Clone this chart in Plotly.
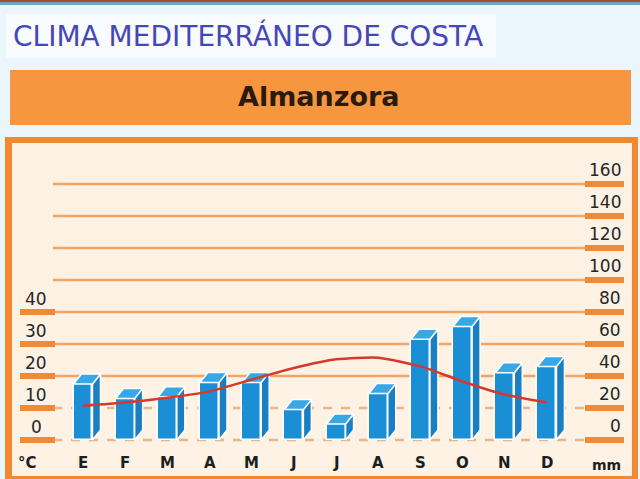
import plotly.graph_objects as go

# ---- data ----
months = ['E', 'F', 'M', 'A', 'M', 'J', 'J', 'A', 'S', 'O', 'N', 'D']
precip_mm = [35, 26, 27, 36, 36, 19, 10, 29, 63, 71, 42, 46]
temp_c = [10.7, 11.7, 13.2, 15.2, 18.9, 22.5, 25.2, 25.7, 23.0, 18.3, 14.2, 11.7]
mm_ticks = [0, 20, 40, 60, 80, 100, 120, 140, 160]
temp_ticks = [0, 10, 20, 30, 40]
title_text = 'CLIMA MEDITERRÁNEO DE COSTA'
station = 'Almanzora'

W, H = 640, 479
X0, DXP = 83.0, 42.18       # pixel of first category, pixels per category
Y0, DYP = 440.0, 1.6        # pixel of 0 mm, pixels per mm

def px(p):
    return p / W

def py(p):
    return 1 - p / H

def xdat(p):
    return (p - X0) / DXP

xr = [xdat(0), xdat(W)]
yr = [(Y0 - H) / DYP, Y0 / DYP]

fig = go.Figure()
shapes = []
annotations = []

def rect(x0, y0, x1, y1, color, layer='below'):
    shapes.append(dict(type='rect', xref='paper', yref='paper', x0=px(x0), x1=px(x1),
                       y0=py(y1), y1=py(y0), fillcolor=color, line=dict(width=0), layer=layer))

# backgrounds
rect(0, 0, W, H, '#eaf6fc')
rect(0, 0, W, 2, '#a44a35')
rect(0, 2, W, 5, '#6aaab8')
rect(6, 14, 496, 58, '#f8fcff')
rect(10, 70, 631, 125, '#f6963f')
rect(5, 137, 638, H, '#f0892f')
rect(12, 143, 632, 476, '#fdf2e4')

LBL = dict(family='DejaVu Sans', size=17, color='#262626')
MON = dict(family='DejaVu Sans', size=15, color='#1e1e1e', weight='bold')

# gridlines
gx0, gx1 = xdat(53), xdat(585)
for v in mm_ticks:
    dashed = v in (0, 20)
    shapes.append(dict(type='line', xref='x', yref='y', x0=gx0, x1=gx1, y0=v, y1=v,
                       line=dict(color='#e8b48a' if dashed else '#f2a468', width=2.5,
                                 dash='dash' if dashed else 'solid'),
                       layer='below'))
    # right thick marks
    shapes.append(dict(type='line', xref='x', yref='y', x0=xdat(585), x1=xdat(624), y0=v, y1=v,
                       line=dict(color='#ee8a38', width=6), layer='below'))
    annotations.append(dict(x=xdat(623), y=v, xref='x', yref='y', text=str(v), showarrow=False,
                            xanchor='right', yanchor='middle', yshift=14, font=LBL))
for t in temp_ticks:
    shapes.append(dict(type='line', xref='x', yref='y2', x0=xdat(20), x1=xdat(55), y0=t, y1=t,
                       line=dict(color='#ee8a38', width=6), layer='below'))
    annotations.append(dict(x=xdat(36), y=t, xref='x', yref='y2', text=str(t), showarrow=False,
                            xanchor='center', yanchor='middle', yshift=13, font=LBL))

# month labels
for i, m in enumerate(months):
    annotations.append(dict(x=i, y=yr[0], xref='x', yref='y', text=m, showarrow=False,
                            xanchor='center', yanchor='middle', yshift=(479 - 463), font=MON))
annotations.append(dict(x=xdat(27), y=yr[0], xref='x', yref='y', text='°C', showarrow=False,
                        xanchor='center', yanchor='middle', yshift=(479 - 463), font=MON))
annotations.append(dict(x=xdat(606), y=yr[0], xref='x', yref='y', text='mm', showarrow=False,
                        xanchor='center', yanchor='middle', yshift=(479 - 465),
                        font=dict(family='DejaVu Sans', size=14, color='#1e1e1e', weight='bold')))

# title and station
annotations.append(dict(x=px(11), y=py(36), xref='paper', yref='paper', text=title_text,
                        showarrow=False, xanchor='left', yanchor='middle',
                        font=dict(family='DejaVu Sans', size=28, color='#4646b8')))
annotations.append(dict(x=px(319), y=py(97), xref='paper', yref='paper', text='<b>' + station + '</b>',
                        showarrow=False, xanchor='center', yanchor='middle',
                        font=dict(family='DejaVu Sans', size=27, color='#2a1a0e')))

# bars: front faces
BW = 0.45
DX = 8 / DXP
DY = 10 / DYP
fig.add_trace(go.Bar(x=list(range(12)), y=precip_mm, width=BW,
                     marker=dict(color='#1a8fd5', line=dict(color='white', width=1.5)),
                     showlegend=False, hoverinfo='skip'))
# side and top faces
for i, v in enumerate(precip_mm):
    xl, xrr = i - BW / 2, i + BW / 2
    fig.add_trace(go.Scatter(x=[xrr, xrr + DX, xrr + DX, xrr, xrr],
                             y=[0, DY, v + DY, v, 0], mode='lines', fill='toself',
                             fillcolor='#1a7ec2', line=dict(color='white', width=1.5),
                             showlegend=False, hoverinfo='skip'))
    fig.add_trace(go.Scatter(x=[xl, xl + DX, xrr + DX, xrr, xl],
                             y=[v, v + DY, v + DY, v, v], mode='lines', fill='toself',
                             fillcolor='#39a6e6', line=dict(color='white', width=1.5),
                             showlegend=False, hoverinfo='skip'))

# temperature line
fig.add_trace(go.Scatter(x=list(range(12)), y=temp_c, yaxis='y2', mode='lines',
                         line=dict(color='#d6392b', width=2.5, shape='spline', smoothing=0.6),
                         showlegend=False, hoverinfo='skip'))

fig.update_layout(
    width=W, height=H,
    margin=dict(l=0, r=0, t=0, b=0, pad=0),
    paper_bgcolor='#eaf6fc', plot_bgcolor='rgba(0,0,0,0)',
    xaxis=dict(range=xr, visible=False, domain=[0, 1], fixedrange=True),
    yaxis=dict(range=yr, visible=False, domain=[0, 1], fixedrange=True),
    yaxis2=dict(range=[yr[0] / 2, yr[1] / 2], visible=False, overlaying='y', fixedrange=True),
    shapes=shapes, annotations=annotations, bargap=0,
)

fig.write_html('out.html', config={'displayModeBar': False},
               post_script="document.body.style.margin='0';document.body.style.overflow='hidden';")
